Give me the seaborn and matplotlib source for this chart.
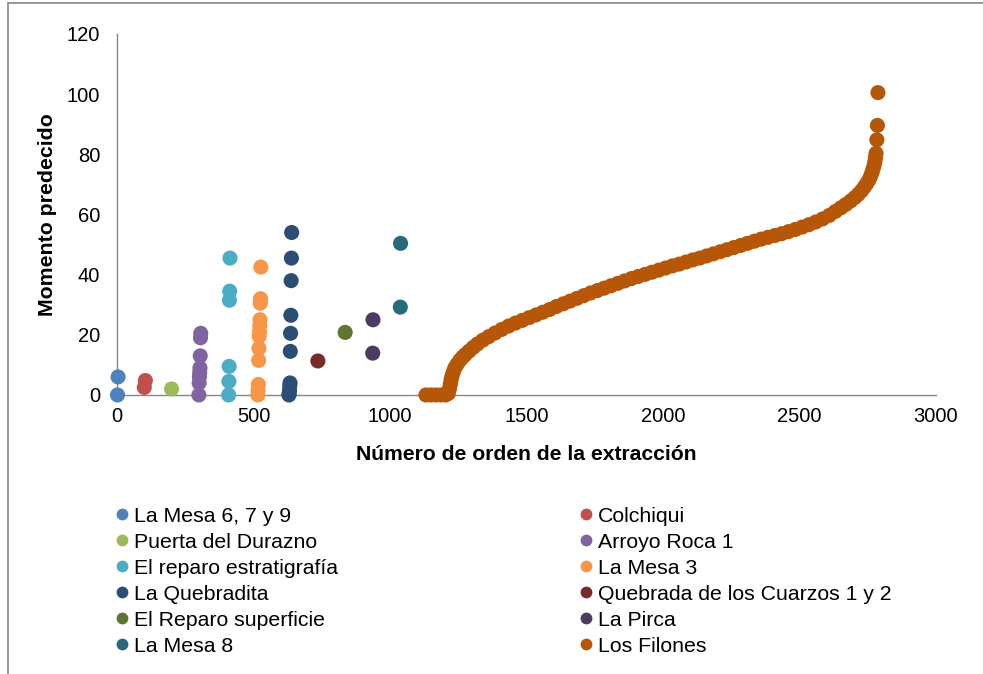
import numpy as np
import pandas as pd
import matplotlib
matplotlib.use("Agg")
import matplotlib.pyplot as plt
from matplotlib.lines import Line2D
import seaborn as sns

# --- data: extraction order number vs. predicted moment, per site ---
mesa679_x = [2, 4]
mesa679_y = [0, 6]

colchiqui_x = [100, 104]
colchiqui_y = [2.5, 4.8]

durazno_x = [200]
durazno_y = [2]

arroyo_x = [300, 301, 302, 303, 304, 305, 306, 307]
arroyo_y = [0, 4, 6, 7.5, 9, 13, 19, 20.5]

reparo_estr_x = [409, 410, 411, 412, 413, 414]
reparo_estr_y = [0, 4.5, 9.5, 31.5, 34.5, 45.5]

mesa3_x = [516, 517, 518, 519, 520, 521, 522, 523, 524, 525, 526, 527]
mesa3_y = [0, 1.5, 3.5, 11.5, 15.5, 19.5, 21, 23, 25, 30.5, 32, 42.5]

quebradita_x = [630, 631, 632, 633, 634, 635, 636, 637, 638, 639, 640]
quebradita_y = [0, 0.5, 1.5, 3, 4, 14.5, 20.5, 26.5, 38, 45.5, 54]

cuarzos_x = [736]
cuarzos_y = [11.3]

reparo_sup_x = [836]
reparo_sup_y = [20.8]

pirca_x = [937, 938]
pirca_y = [13.9, 25]

mesa8_x = [1038, 1039]
mesa8_y = [29.2, 50.4]

filones_x = [1132, 1150, 1168, 1186, 1204, 1214, 1218, 1221, 1224, 1227, 1232,
             1238, 1246, 1256, 1266, 1276, 1290, 1305, 1320, 1340, 1362, 1385,
             1410, 1435, 1460, 1485, 1510, 1535, 1560, 1585, 1610, 1635, 1660,
             1685, 1710, 1735, 1760, 1785, 1810, 1835, 1860, 1885, 1910, 1935,
             1960, 1985, 2010, 2035, 2060, 2085, 2110, 2135, 2160, 2185, 2210,
             2235, 2260, 2285, 2310, 2335, 2360, 2385, 2410, 2435, 2460, 2485,
             2510, 2535, 2560, 2585, 2610, 2632, 2652, 2670, 2688, 2703, 2716,
             2728, 2738, 2747, 2755, 2761, 2766, 2770, 2774, 2777, 2779, 2781,
             2784, 2786, 2788]
filones_y = [0, 0, 0, 0, 0, 0.5, 2, 3.5, 5, 6.2, 7.6,
             9, 10.2, 11.5, 12.5, 13.4, 14.6, 15.8, 16.9, 18.2, 19.4, 20.6,
             21.8, 22.9, 23.9, 24.8, 25.7, 26.6, 27.5, 28.4, 29.4, 30.3, 31.2,
             32.1, 33, 33.9, 34.7, 35.5, 36.3, 37.1, 37.9, 38.7, 39.4, 40.1,
             40.8, 41.5, 42.2, 42.9, 43.5, 44.2, 44.9, 45.5, 46.2, 46.9, 47.6,
             48.3, 49, 49.7, 50.4, 51.1, 51.8, 52.4, 53, 53.6, 54.3, 55,
             55.8, 56.6, 57.5, 58.5, 59.7, 61, 62.2, 63.3, 64.5, 65.6, 66.7,
             67.9, 69.1, 70.3, 71.5, 72.7, 73.9, 75.1, 76.4, 77.7, 79, 80.3,
             84.8, 89.6, 100.5]

sites = ["La Mesa 6, 7 y 9", "Colchiqui", "Puerta del Durazno", "Arroyo Roca 1",
         "El reparo estratigrafía", "La Mesa 3", "La Quebradita",
         "Quebrada de los Cuarzos 1 y 2", "El Reparo superficie", "La Pirca",
         "La Mesa 8", "Los Filones"]
series = [(mesa679_x, mesa679_y), (colchiqui_x, colchiqui_y),
          (durazno_x, durazno_y), (arroyo_x, arroyo_y),
          (reparo_estr_x, reparo_estr_y), (mesa3_x, mesa3_y),
          (quebradita_x, quebradita_y), (cuarzos_x, cuarzos_y),
          (reparo_sup_x, reparo_sup_y), (pirca_x, pirca_y),
          (mesa8_x, mesa8_y), (filones_x, filones_y)]
colors = ["#4F81BD", "#C0504D", "#9BBB59", "#8064A2", "#4BACC6", "#F79646",
          "#2C4D75", "#772C2A", "#5F7530", "#4D3B62", "#276A7C", "#B65708"]

df = pd.concat(
    [pd.DataFrame({"orden": sx, "momento": sy, "sitio": name})
     for name, (sx, sy) in zip(sites, series)],
    ignore_index=True)

sns.set_theme(style="white")
plt.rcParams["font.family"] = ["Liberation Sans", "DejaVu Sans"]
plt.rcParams["text.color"] = "black"
plt.rcParams["axes.labelcolor"] = "black"

fig = plt.figure(figsize=(9.83, 6.74), dpi=100)
ax = fig.add_axes([0.119, 0.414, 0.833, 0.5356])

palette = dict(zip(sites, colors))
sns.scatterplot(data=df, x="orden", y="momento", hue="sitio",
                hue_order=sites, palette=palette, s=118, linewidth=0,
                alpha=1, ax=ax, legend=False, clip_on=False, zorder=3)

ax.set_xlim(0, 3000)
ax.set_ylim(0, 120)
ax.set_xticks([0, 500, 1000, 1500, 2000, 2500, 3000])
ax.set_yticks([0, 20, 40, 60, 80, 100, 120])
ax.tick_params(axis="both", length=0, labelsize=14.5, colors="black")
ax.tick_params(axis="y", pad=12)
ax.tick_params(axis="x", pad=9)

for side in ["top", "right"]:
    ax.spines[side].set_visible(False)
for side in ["left", "bottom"]:
    ax.spines[side].set_color("#868686")
    ax.spines[side].set_linewidth(1.0)

ax.set_xlabel("Número de orden de la extracción", fontsize=15.2,
              fontweight="bold", labelpad=13)
ax.set_ylabel("Momento predecido", fontsize=15.3, fontweight="bold",
              labelpad=7)

# legend laid out row by row: two columns
order = [0, 2, 4, 6, 8, 10, 1, 3, 5, 7, 9, 11]
handles = [Line2D([], [], linestyle="none", marker="o", markersize=8.5,
                  markerfacecolor=colors[i], markeredgewidth=0)
           for i in order]
labels = [sites[i] for i in order]
fig.legend(handles, labels, ncol=2, loc="upper left",
           bbox_to_anchor=(0.1176, 0.2485), frameon=False, fontsize=15.3,
           handlelength=0.6, handletextpad=0.25, columnspacing=11.4,
           labelspacing=0.33, borderaxespad=0, borderpad=0,
           labelcolor="black")

# chart-area frame
fig.add_artist(Line2D([7.5 / 983, 7.5 / 983], [0, 1 - 3 / 674],
                      transform=fig.transFigure, color="#868686", lw=1.2))
fig.add_artist(Line2D([7.5 / 983, 1], [1 - 3 / 674, 1 - 3 / 674],
                      transform=fig.transFigure, color="#868686", lw=1.2))

fig.savefig("out.png", dpi=100)
